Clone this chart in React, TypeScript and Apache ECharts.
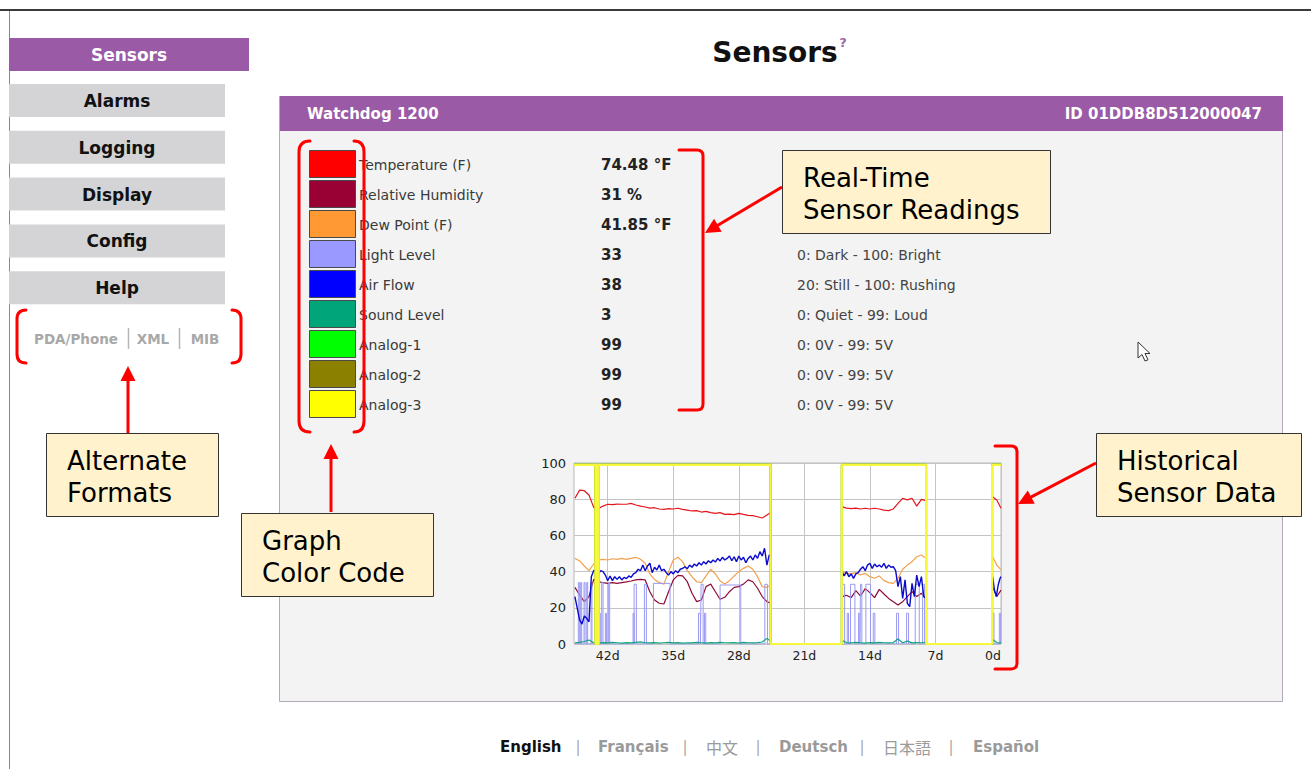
import React, { useEffect, useRef } from "react";
import * as echarts from "echarts";

// ---------- chart data ----------
const dayTicks = [-42, -35, -28, -21, -14, -7, 0];

const mainDays = [
  -45.5, -45, -44.5, -44, -43.5, -43, -42.5, -42, -41.5, -41, -40.5, -40, -39.5, -39, -38.5, -38, -37.5, -37, -36.5, -36,
  -35.5, -35, -34.5, -34, -33.5, -33, -32.5, -32, -31.5, -31, -30.5, -30, -29.5, -29, -28.5, -28, -27.5, -27, -26.5, -26,
  -25.5, -25, -24.6,
  -21,
  -17, -16.5, -16, -15.5, -15, -14.5, -14, -13.5, -13, -12.5, -12, -11.5, -11, -10.5, -10, -9.5, -9, -8.5, -8,
  -4.5,
  -0.9, -0.45, 0,
];

const temperature = [
  80.5, 85, 84.7, 82.3, 75.5, 74.8, 76.2, 77.2, 77, 77.3, 77.2, 77.2, 77.7, 76.8, 76.2, 75.7, 75.1, 75.3, 74.6, 74.4,
  74.8, 74.6, 75, 74.4, 74, 73.5, 73.7, 72.9, 73.3, 72.6, 72.2, 72.6, 71.6, 71.8, 71.5, 72.2, 71.6, 71.1, 70.9, 70.3,
  69.6, 71.3, 72.7,
  null,
  75.9, 75.1, 74.8, 75.1, 74.6, 75, 74.6, 75, 74.6, 74, 73.7, 74.6, 77.7, 80.5, 79.6, 80.5, 76.2, 79.9, 79.2,
  null,
  81.4, 79.6, 75,
];

const humidity = [
  31.3, 27.1, 23.4, 26.2, 35.7, 34.4, 33.9, 33.5, 33.9, 33.5, 33.9, 34.3, 34.8, 35.4, 35.7, 35.4, 28.9, 24.3, 22.5, 22.1,
  28.9, 35.4, 37.9, 37.6, 34.4, 28, 23.4, 24.3, 31.7, 33.1, 28.9, 24.7, 25.8, 28.9, 31.3, 31.7, 33.1, 35.4, 34.4, 30.8,
  26.2, 23.4, 22.5,
  null,
  26.2, 26.9, 25.6, 29.5, 26.5, 30.6, 28.4, 25.6, 30.2, 27.6, 25.2, 23.4, 21.5, 23.4, 26.2, 28.9, 26.2, 28, 25.2,
  null,
  31.7, 26.2, 29.8,
];

const dewPoint = [
  47.3, 45.9, 43.1, 40.5, 44.2, 46.4, 46.8, 46.4, 47.1, 46.8, 47.3, 46.8, 47.3, 47.9, 46.8, 44.6, 38.7, 35.7, 33.9, 33.1,
  40, 46.4, 47.9, 45.5, 40.5, 37.2, 34.4, 33.9, 37.6, 41.3, 38.7, 34.8, 33.1, 35, 37.6, 40, 41.8, 43.1, 41.3, 37.2,
  31.7, 31.3, 32.6,
  null,
  40, 39, 38.7, 39.4, 38.1, 39, 37.2, 36.3, 37.6, 35, 33.9, 33.5, 36.3, 41.3, 43.6, 45.5, 48.2, 49.2, 47.3,
  null,
  48.2, 43.6, 40.9,
];

const soundLevel = [
  0.6, 0.9, 1.4, 2.2, 0.7, 0.5, 0.8, 0.6, 0.9, 0.7, 0.5, 0.8, 0.6, 0.9, 1.2, 0.7, 0.6, 0.8, 0.5, 0.7,
  0.9, 0.6, 0.8, 0.5, 0.7, 0.6, 0.9, 0.7, 0.5, 0.8, 0.6, 0.9, 0.7, 0.6, 0.8, 0.5, 0.9, 0.7, 0.6, 0.8,
  1.1, 3.1, 1.5,
  null,
  2.0, 0.8, 0.6, 0.9, 0.7, 0.5, 0.8, 0.6, 0.9, 0.7, 0.6, 0.8, 2.8, 0.7, 1.6, 0.6, 0.8, 0.7, 0.9,
  null,
  2.5, 0.8, 0.6,
];

const airDays = [
  -45.5, -45.25, -45, -44.75, -44.5, -44.25, -44, -43.75, -43.5, -43.25, -43, -42.75, -42.5, -42.25, -42, -41.75,
  -41.5, -41.25, -41, -40.75, -40.5, -40.25, -40, -39.75, -39.5, -39.25, -39, -38.75, -38.5, -38.25, -38, -37.75,
  -37.5, -37.25, -37, -36.75, -36.5, -36.25, -36, -35.75, -35.5, -35.25, -35, -34.75, -34.5, -34.25, -34, -33.75,
  -33.5, -33.25, -33, -32.75, -32.5, -32.25, -32, -31.75, -31.5, -31.25, -31, -30.75, -30.5, -30.25, -30, -29.75,
  -29.5, -29.25, -29, -28.75, -28.5, -28.25, -28, -27.75, -27.5, -27.25, -27, -26.75, -26.5, -26.25, -26, -25.75,
  -25.5, -25.25, -25, -24.75, -24.6,
  -21,
  -17, -16.75, -16.5, -16.25, -16, -15.75, -15.5, -15.25, -15, -14.75, -14.5, -14.25, -14, -13.75, -13.5, -13.25,
  -13, -12.75, -12.5, -12.25, -12, -11.75, -11.5, -11.25, -11, -10.75, -10.5, -10.25, -10, -9.75, -9.5, -9.25,
  -9, -8.75, -8.5, -8.25, -8,
  -4.5,
  -0.9, -0.7, -0.5, -0.3, -0.1, 0,
];

const airFlow = [
  26.2, 19.7, 13.3, 11, 15.5, 14.2, 12.3, 37.2, 40.5, 40.9, 38.7, 40.5, 40, 38.1, 35, 37.6, 35, 37.2, 35.7, 37.2,
  35.4, 36.8, 36.1, 37.6, 36.8, 38.7, 39.4, 41.3, 40.5, 43.6, 40.5, 43.1, 44.6, 39.4, 42.4, 40.9, 43.6, 40.5, 41.3, 39.4,
  38.1, 40, 38.7, 40.5, 39.4, 41.3, 41.8, 42.7, 41.6, 43.6, 42.4, 44.2, 43.1, 44.9, 43.6, 45.5, 44.2, 46, 44.9, 46.4,
  45.3, 47.3, 45.9, 47.9, 46.4, 47.3, 48.6, 46, 48.2, 45.5, 48.6, 46.4, 47.9, 44.9, 47.3, 48.6, 46.4, 49.2, 47.3, 51,
  48.6, 52.9, 43.6, 49.2, 48.2,
  null,
  40, 37.6, 40, 37.2, 38.7, 36.3, 38.7, 39.4, 41.3, 42.7, 40.5, 43.6, 44.6, 41.8, 44.2, 42.7, 43.6, 42.4, 44.6, 41.8,
  43.6, 42.4, 42.7, 40.5, 31.7, 37.2, 25.2, 35.4, 22.5, 20.6, 33.5, 26.2, 38.1, 31.7, 37.2, 26.2, 25.2,
  null,
  37.2, 29.8, 26.2, 32.6, 36.3, 37.2,
];

// light level: logging segments and on-pulses [start day, end day, level]
const lightSegments = [
  [-45.5, -24.6],
  [-17, -8],
  [-0.9, 0],
];
const lightPulses = [
  [-45.14, -45.03, 34], [-44.89, -44.78, 34], [-44.53, -44.42, 34], [-44.24, -44.14, 34], [-43.78, -43.68, 34],
  [-42.93, -42.79, 17], [-42.64, -42.5, 34], [-42.25, -42.14, 17], [-41.93, -41.79, 34],
  [-39.29, -39.18, 17], [-39.18, -38.94, 33], [-38.08, -37.87, 33], [-37.12, -35.34, 33.5],
  [-32.31, -32.1, 17], [-32.03, -31.81, 33], [-31.67, -31.53, 17], [-30, -27.79, 32.6], [-25.22, -24.94, 33],
  [-16.92, -16.7, 33], [-16.42, -16.28, 17], [-16.07, -15.6, 33], [-15.21, -15.07, 17], [-15, -14.86, 33],
  [-14.43, -13.93, 33], [-13.64, -13.47, 17], [-11.15, -10.94, 17], [-10.08, -9.87, 17], [-9.16, -8.73, 33],
  [-8.37, -8.16, 33],
  [-0.89, -0.75, 17], [-0.18, -0.04, 17],
];

const analogDays = [-45.6, -43.31, -43.31, -43.2, -43.2, -43.1, -43.1, -42.96, -42.96, -24.6, -24.6, -17, -17, -8, -8, -0.95, -0.95, 0];
const analog1 = [99, 99, 0, 0, 99, 99, 0, 0, 99, 99, 0, 0, 99, 99, 0, 0, 99, 99];
const analog2 = [99, 99, 0, 0, 99, 99, 0, 0, 99, 99, 0, 0, 99, 99, 0, 0, 99, 99];
const analog3 = [99, 99, 0, 0, 99, 99, 0, 0, 99, 99, 0, 0, 99, 99, 0, 0, 99, 99];

// ---------- page texts ----------
const legendNames = ["Temperature (F)", "Relative Humidity", "Dew Point (F)", "Light Level", "Air Flow", "Sound Level", "Analog-1", "Analog-2", "Analog-3"];
const legendColors = ["#ff0000", "#990033", "#ff9933", "#9999ff", "#0000ff", "#00a57a", "#00ff00", "#8c8000", "#ffff00"];
const readings = ["74.48 °F", "31 %", "41.85 °F", "33", "38", "3", "99", "99", "99"];
const ranges = ["", "", "", "0: Dark - 100: Bright", "20: Still - 100: Rushing", "0: Quiet - 99: Loud", "0: 0V - 99: 5V", "0: 0V - 99: 5V", "0: 0V - 99: 5V"];
const navItems = ["Alarms", "Logging", "Display", "Config", "Help"];
const altFormats = ["PDA/Phone", "XML", "MIB"];
const languages = ["English", "Français", "中文", "Deutsch", "日本語", "Español"];

const F = '"DejaVu Sans", Verdana, sans-serif';
const CJK = '"Noto Sans CJK JP", "Noto Sans CJK SC", sans-serif';

function pts(days: number[], vals: (number | null)[]) {
  return days.map((d, i) => [d, vals[i] == null ? "-" : vals[i]]);
}

function buildLight() {
  const out: any[] = [];
  lightSegments.forEach(([s, e], si) => {
    out.push([s, 0]);
    lightPulses
      .filter((p) => p[0] >= s && p[1] <= e)
      .forEach(([a, b, h]) => {
        out.push([a, 0], [a, h], [b, h], [b, 0]);
      });
    out.push([e, 0]);
    if (si < lightSegments.length - 1) out.push([(e + lightSegments[si + 1][0]) / 2, "-"]);
  });
  return out;
}

function txt(x: number, y: number, text: string, font: string, fill: string, align = "left", vAlign = "middle") {
  return {
    type: "text",
    x,
    y,
    style: { text, font, fill, align, textAlign: align, verticalAlign: vAlign, textVerticalAlign: vAlign },
  };
}
function rect(x: number, y: number, w: number, h: number, fill: string, stroke?: string, z?: number) {
  const r: any = { type: "rect", shape: { x, y, width: w, height: h }, style: { fill, stroke: stroke || null, lineWidth: stroke ? 1 : 0 } };
  if (z !== undefined) r.z = z;
  return r;
}
function arrow(x1: number, y1: number, x2: number, y2: number) {
  const dx = x2 - x1, dy = y2 - y1;
  const L = Math.hypot(dx, dy);
  const ux = dx / L, uy = dy / L;
  const hl = 15, hw = 7.5;
  const bx = x2 - ux * hl, by = y2 - uy * hl;
  return [
    { type: "line", shape: { x1, y1, x2: bx + ux * 2, y2: by + uy * 2 }, style: { stroke: "#ff0000", lineWidth: 3 } },
    { type: "polygon", shape: { points: [[x2, y2], [bx - uy * hw, by + ux * hw], [bx + uy * hw, by - ux * hw]] }, style: { fill: "#ff0000" } },
  ];
}
function noteBox(x: number, y: number, w: number, h: number, lines: string[]) {
  return [
    rect(x + 0.5, y + 0.5, w, h, "#fff2cc", "#333"),
    txt(x + 21, y + 28, lines[0], `26px ${F}`, "#000"),
    txt(x + 21, y + 60, lines[1], `26px ${F}`, "#000"),
  ];
}

const bracketPaths: Record<string, string> = {
  brAltL: "M 26 310 Q 17 310 17 319 L 17 354 Q 17 363 26 363",
  brAltR: "M 232 310 Q 241 310 241 319 L 241 354 Q 241 363 232 363",
  brLegL: "M 310 141 Q 299 141 299 152 L 299 421 Q 299 432 310 432",
  brLegR: "M 354 141 Q 364 141 364 152 L 364 421 Q 364 432 354 432",
  brRead: "M 679 150 L 697 150 Q 703 150 703 156 L 703 404 Q 703 410 697 410 L 679 410",
  brHist: "M 995 446 L 1011 446 Q 1017 446 1017 452 L 1017 663 Q 1017 669 1011 669 L 995 669",
};

function registerShapes() {
  Object.keys(bracketPaths).forEach((k) => {
    echarts.graphic.registerShape(k, echarts.graphic.extendPath(bracketPaths[k], {}) as any);
  });
}

function buildGraphic() {
  const G: any[] = [];
  // window frame
  G.push({ type: "line", shape: { x1: 0, y1: 10, x2: 1311, y2: 10 }, style: { stroke: "#3a3a3a", lineWidth: 2 } });
  G.push({ type: "line", shape: { x1: 9.5, y1: 11, x2: 9.5, y2: 769 }, style: { stroke: "#8a8a8a", lineWidth: 1 } });

  // sidebar
  G.push(rect(9, 38, 240, 33, "#9b5aa5"));
  G.push(txt(129, 55, "Sensors", `bold 17px ${F}`, "#ffffff", "center"));
  navItems.forEach((n, i) => {
    const y = 84 + i * 46.8;
    G.push(rect(9, y, 216, 33, "#d4d4d6"));
    G.push(txt(117, y + 17, n, `bold 17px ${F}`, "#111111", "center"));
  });
  const altX = [76, 153, 205];
  altFormats.forEach((a, i) => G.push(txt(altX[i], 339, a, `bold 13.5px ${F}`, "#a8a8a8", "center")));
  G.push({ type: "line", shape: { x1: 128.5, y1: 328, x2: 128.5, y2: 349 }, style: { stroke: "#b5b5b5", lineWidth: 1.5 } });
  G.push({ type: "line", shape: { x1: 179.5, y1: 328, x2: 179.5, y2: 349 }, style: { stroke: "#b5b5b5", lineWidth: 1.5 } });

  // title
  G.push(txt(775, 52, "Sensors", `bold 28px ${F}`, "#111111", "center"));
  G.push(txt(843, 42, "?", `bold 13px ${F}`, "#9b6aa8", "center"));

  // panel
  G.push(rect(279.5, 96.5, 1003, 605, "#f3f3f3", "#b4a9bc", -10));
  G.push(rect(280, 96, 1003, 35, "#9b5aa5", undefined, -9));
  G.push(txt(307, 114, "Watchdog 1200", `bold 15px ${F}`, "#ffffff"));
  G.push(txt(1262, 114, "ID 01DDB8D512000047", `bold 15px ${F}`, "#ffffff", "right"));

  // legend rows
  legendNames.forEach((n, i) => {
    const y = 150.5 + i * 30;
    G.push(rect(309.5, y, 46, 27, legendColors[i], "#4a4a4a"));
    G.push(txt(359, y + 14, n, `14px ${F}`, "#3a3a3a"));
    G.push(txt(601, y + 14, readings[i], `bold 15px ${F}`, "#222222"));
    if (ranges[i]) G.push(txt(797, y + 14, ranges[i], `14px ${F}`, "#444444"));
  });

  // red brackets
  Object.keys(bracketPaths).forEach((k) => {
    G.push({ type: k, x: 0, y: 0, style: { stroke: "#ff0000", fill: "none", lineWidth: 3, lineCap: "round", lineJoin: "round" } });
  });

  // annotation boxes and arrows
  G.push(...noteBox(782, 150, 268, 83, ["Real-Time", "Sensor Readings"]));
  G.push(...noteBox(46, 433, 172, 83, ["Alternate", "Formats"]));
  G.push(...noteBox(241, 513, 192, 83, ["Graph", "Color Code"]));
  G.push(...noteBox(1096, 433, 205, 83, ["Historical", "Sensor Data"]));
  G.push(...arrow(782, 187, 705, 233));
  G.push(...arrow(128, 433, 128, 366));
  G.push(...arrow(331, 512, 331, 444));
  G.push(...arrow(1096, 463, 1018, 504));

  // mouse cursor
  G.push({
    type: "polygon",
    shape: { points: [[1138, 342], [1138, 358], [1142, 354.5], [1145, 361], [1148, 359.8], [1145, 353.5], [1150, 353.5]] },
    style: { fill: "#ffffff", stroke: "#333333", lineWidth: 1 },
  });

  // footer languages
  const langX = [500, 598, 706, 779, 883, 973];
  const sepX = [578, 685, 758, 862, 951];
  languages.forEach((l, i) => {
    const isCJK = /[\u4e00-\u9fff]/.test(l);
    const font = isCJK ? `16px ${CJK}` : `bold 15px ${F}`;
    G.push(txt(langX[i], 747, l, font, i === 0 ? "#111111" : "#9a9a9a"));
  });
  sepX.forEach((x) => G.push(txt(x, 747, "|", `15px ${F}`, "#a8a8a8", "center")));
  return G;
}

function line(name: string, data: any[], color: string, width: number, clip = true) {
  return {
    type: "line",
    name,
    data,
    showSymbol: false,
    symbol: "none",
    connectNulls: false,
    clip,
    silent: true,
    lineStyle: { color, width },
    itemStyle: { color },
  };
}

export default function App() {
  const ref = useRef<HTMLDivElement>(null);
  useEffect(() => {
    registerShapes();
    const chart = echarts.init(ref.current!, null, { renderer: "svg" });
    const option: any = {
      animation: false,
      backgroundColor: "#ffffff",
      grid: {
        left: 574,
        top: 463,
        width: 427,
        height: 181,
        show: true,
        backgroundColor: "#ffffff",
        borderColor: "#b8b8b8",
        borderWidth: 1,
      },
      xAxis: {
        type: "value",
        min: -45.6,
        max: 0,
        axisLine: { show: false },
        axisTick: { show: false, customValues: dayTicks },
        axisLabel: {
          customValues: dayTicks,
          formatter: (v: number) => `${Math.abs(Math.round(v))}d`,
          color: "#222222",
          fontSize: 12.5,
          fontFamily: F,
          margin: 5,
          alignMaxLabel: "right",
        },
        splitLine: { show: true, lineStyle: { color: "#c4c4c4", width: 1 } },
      },
      yAxis: {
        type: "value",
        min: 0,
        max: 100,
        interval: 20,
        axisLine: { show: false },
        axisTick: { show: false },
        axisLabel: { color: "#222222", fontSize: 13, fontFamily: F, margin: 8 },
        splitLine: { show: true, lineStyle: { color: "#c4c4c4", width: 1 } },
      },
      series: [
        line("Analog-1", pts(analogDays, analog1), legendColors[6], 2, false),
        line("Analog-2", pts(analogDays, analog2), legendColors[7], 2, false),
        line("Temperature (F)", pts(mainDays, temperature), "#e3161c", 1.2),
        line("Relative Humidity", pts(mainDays, humidity), "#8e0a36", 1.2),
        line("Dew Point (F)", pts(mainDays, dewPoint), "#f3a04c", 1.2),
        line("Light Level", buildLight(), "#9a9af2", 1),
        line("Air Flow", pts(airDays, airFlow), "#0a0acc", 1.4),
        line("Sound Level", pts(mainDays, soundLevel), "#13a37f", 1.2),
        line("Analog-3", pts(analogDays, analog3), "#f7f73c", 2.2, false),
      ],
      graphic: { elements: buildGraphic() },
    };
    chart.setOption(option);
    return () => chart.dispose();
  }, []);
  return (
    <div
      ref={ref}
      style={{ position: "fixed", left: 0, top: 0, width: 1311, height: 769, background: "#ffffff" }}
    />
  );
}
